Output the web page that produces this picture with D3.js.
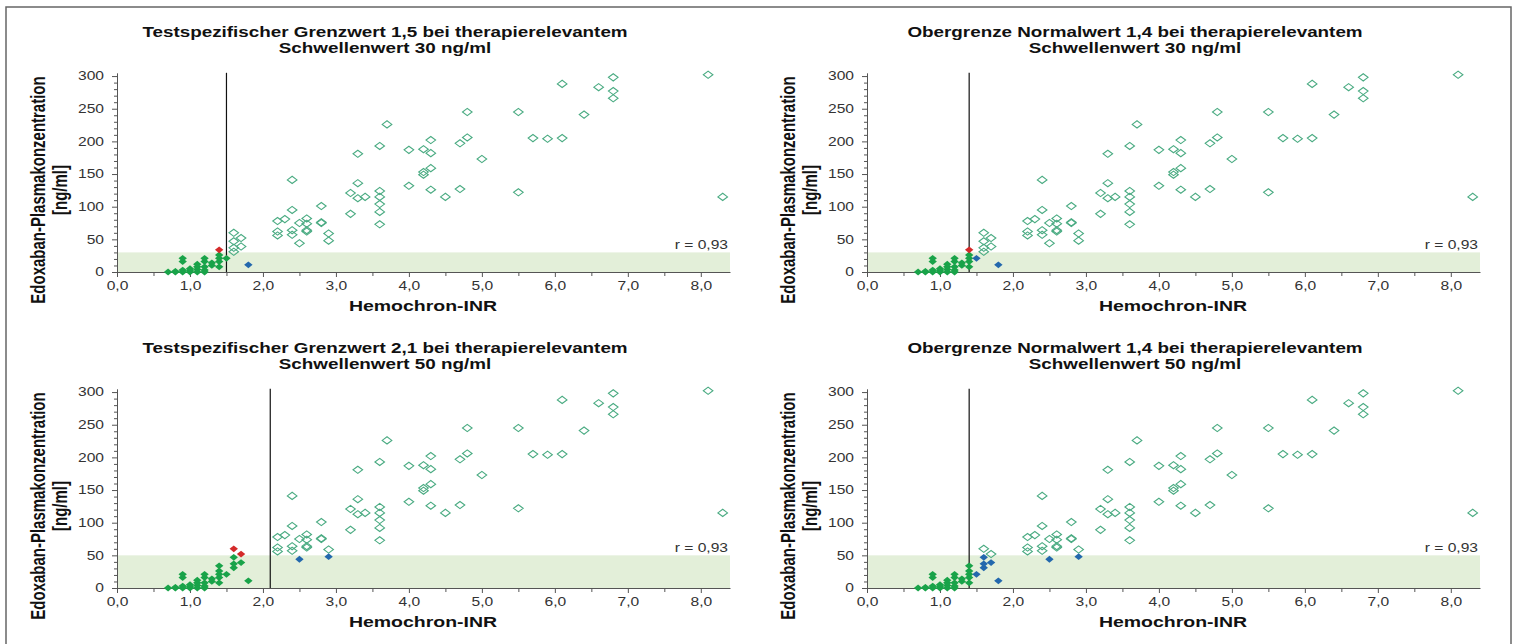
<!DOCTYPE html>
<html>
<head>
<meta charset="utf-8">
<script src="https://cdn.jsdelivr.net/npm/d3@7"></script>
<style>
  body { margin: 0; background: #fff; }
  svg { display: block; }
  text { font-family: "Liberation Sans", Arial, sans-serif; }
</style>
</head>
<body>
<script>
// ** Messwerte (Hemochron-INR / Edoxaban-Plasmakonzentration)
var inr = [
  0.7, 0.8, 0.8, 0.9, 0.9, 0.9, 0.9, 1.0, 1.0, 1.0,
  1.1, 1.1, 1.1, 1.1, 1.2, 1.2, 1.2, 1.2, 1.2, 1.3,
  1.3, 1.4, 1.4, 1.4, 1.4, 1.4, 1.5, 1.6, 1.6, 1.6,
  1.6, 1.7, 1.7, 1.8,
  2.2, 2.2, 2.2, 2.3, 2.4, 2.4, 2.4, 2.4, 2.5, 2.5,
  2.6, 2.6, 2.6, 2.6, 2.8, 2.8, 2.8, 2.9, 2.9, 3.2,
  3.2, 3.3, 3.3, 3.3, 3.4, 3.6, 3.6, 3.6, 3.6, 3.6,
  3.6, 3.7, 4.0, 4.0, 4.2, 4.2, 4.2, 4.3, 4.3, 4.3,
  4.3, 4.5, 4.7, 4.7, 4.8, 4.8, 5.0, 5.5, 5.5, 5.7,
  5.9, 6.1, 6.1, 6.4, 6.6, 6.8, 6.8, 6.8, 8.1, 8.3
];
var conc = [
  0, 0, 1, 0, 3, 16, 21, 0, 2, 5,
  0, 4, 8, 12, 0, 3, 8, 16, 21, 10,
  14, 8, 16, 21, 26, 34, 21, 31, 37, 47,
  60, 39, 52, 11,
  78, 62, 56, 81, 141, 95, 64, 57, 75, 44,
  82, 74, 64, 62, 101, 76, 75, 59, 48, 121,
  89, 181, 136, 113, 115, 193, 124, 115, 104, 92,
  73, 226, 187, 132, 188, 153, 149, 202, 182, 159,
  126, 115, 197, 127, 245, 206, 173, 245, 122, 205,
  204, 288, 205, 241, 283, 298, 277, 266, 302, 115
];

// ** Panels
var titles1 = [
  'Testspezifischer Grenzwert 1,5 bei therapierelevantem',
  'Obergrenze Normalwert 1,4 bei therapierelevantem',
  'Testspezifischer Grenzwert 2,1 bei therapierelevantem',
  'Obergrenze Normalwert 1,4 bei therapierelevantem'
];
var titles2 = [
  'Schwellenwert 30 ng/ml',
  'Schwellenwert 30 ng/ml',
  'Schwellenwert 50 ng/ml',
  'Schwellenwert 50 ng/ml'
];
var inrCutoffs = [1.5, 1.4, 2.1, 1.4];
var concThresholds = [30, 30, 50, 50];
var rLabel = 'r = 0,93';

var xTicks = [0, 1, 2, 3, 4, 5, 6, 7, 8];
var xMinor = [0.5, 1.5, 2.5, 3.5, 4.5, 5.5, 6.5, 7.5];
var yTicks = [0, 50, 100, 150, 200, 250, 300];

// horizontal text stretch of the original picture
var SX = 1.3;

var svg = d3.select('body').append('svg')
    .attr('width', 1514)
    .attr('height', 644);

svg.append('rect')
    .attr('x', 6).attr('y', 7)
    .attr('width', 1505).attr('height', 660)
    .attr('fill', 'none')
    .attr('stroke', '#666')
    .attr('stroke-width', 1.5);

var colors = { open: '#4aab82', green: '#19a349', red: '#d42a2a', blue: '#2368ad' };

var diamond = function(w, h){
  return 'M0,' + (-h) + 'L' + w + ',0L0,' + h + 'L' + (-w) + ',0Z';
};

var classify = function(xv, yv, cut, thr){
  var pos = xv > cut + 1e-9;
  var hi = yv >= thr;
  if (pos) return hi ? 'open' : 'blue';
  return hi ? 'red' : 'green';
};

// ** text with the stretched look
var label = function(g, x, y, str, size, weight, anchor, rotate){
  var t = g.append('g')
      .attr('transform', 'translate(' + x + ',' + y + ') scale(' + SX + ',1)' + (rotate ? ' rotate(-90)' : ''))
    .append('text')
      .attr('text-anchor', anchor || 'middle')
      .attr('font-size', size + 'px')
      .attr('font-weight', weight || 'normal')
      .attr('fill', '#111')
      .text(str);
  return t;
};

var fmt = function(d){ return d3.format('.1f')(d).replace('.', ','); };

for (var i = 0; i < 4; i++) {
  var ox = (i % 2) * 750;
  var oy = Math.floor(i / 2) * 316;
  var g = svg.append('g');

  var x = d3.scaleLinear().domain([0, 8.4]).range([117 + ox, 730 + ox]);
  var y = d3.scaleLinear().domain([0, 305]).range([272 + oy, 72.8 + oy]);

  // threshold band
  g.append('rect')
      .attr('x', x(0)).attr('y', y(concThresholds[i]))
      .attr('width', x(8.4) - x(0))
      .attr('height', y(0) - y(concThresholds[i]))
      .attr('fill', '#e3efd9');

  // cutoff line
  g.append('line')
      .attr('x1', x(inrCutoffs[i])).attr('x2', x(inrCutoffs[i]))
      .attr('y1', y(0)).attr('y2', y(305))
      .attr('stroke', '#111').attr('stroke-width', 1.2);

  // axes
  var xa = g.append('g').attr('transform', 'translate(0,' + y(0) + ')')
      .call(d3.axisBottom(x).tickValues(xTicks).tickSize(5).tickSizeOuter(0).tickFormat(fmt));
  g.append('g').attr('transform', 'translate(0,' + y(0) + ')')
      .call(d3.axisBottom(x).tickValues(xMinor).tickSize(4).tickSizeOuter(0).tickFormat(''))
      .select('.domain').remove();
  var ya = g.append('g').attr('transform', 'translate(' + x(0) + ',0)')
      .call(d3.axisLeft(y).tickValues(yTicks).tickSize(5).tickSizeOuter(0));
  g.append('g').attr('transform', 'translate(' + x(0) + ',0)')
      .call(d3.axisLeft(y).tickValues(d3.range(10, 301, 10).filter(function(v){ return v % 50; }))
        .tickSize(3).tickSizeOuter(0).tickFormat(''))
      .select('.domain').remove();

  g.selectAll('.domain, .tick line').attr('stroke', '#555');
  xa.selectAll('text')
      .attr('font-size', '12px').attr('fill', '#333')
      .attr('font-family', '"Liberation Sans", Arial, sans-serif')
      .attr('y', 9)
      .attr('transform', 'scale(' + SX + ',1)');
  ya.selectAll('text')
      .attr('font-size', '12px').attr('fill', '#333')
      .attr('font-family', '"Liberation Sans", Arial, sans-serif')
      .attr('x', -13 / SX)
      .attr('transform', 'scale(' + SX + ',1)');

  // points
  var pts = inr.map(function(v, k){
    return { x: v, y: conc[k], c: classify(v, conc[k], inrCutoffs[i], concThresholds[i]) };
  });
  g.selectAll('path.open').data(pts.filter(function(d){ return d.c === 'open'; }))
    .enter().append('path')
      .attr('class', 'open')
      .attr('d', diamond(4.8, 3.6))
      .attr('transform', function(d){ return 'translate(' + x(d.x) + ',' + y(d.y) + ')'; })
      .attr('fill', 'none')
      .attr('stroke', colors.open)
      .attr('stroke-width', 1.1);
  g.selectAll('path.filled').data(pts.filter(function(d){ return d.c !== 'open'; }))
    .enter().append('path')
      .attr('class', 'filled')
      .attr('d', diamond(4.2, 3.4))
      .attr('transform', function(d){ return 'translate(' + x(d.x) + ',' + y(d.y) + ')'; })
      .attr('fill', function(d){ return colors[d.c]; });

  // texts
  label(g, 385 + ox, 37 + oy, titles1[i], 14.5, 'bold');
  label(g, 385 + ox, 53 + oy, titles2[i], 14.5, 'bold');
  label(g, 423 + ox, 311 + oy, 'Hemochron-INR', 15, 'bold');
  label(g, 45 + ox, 190 + oy, 'Edoxaban-Plasmakonzentration', 15, 'bold', 'middle', true);
  label(g, 67 + ox, 190 + oy, '[ng/ml]', 15, 'bold', 'middle', true);
  label(g, 728 + ox, y(concThresholds[i]) - 3, rLabel, 12, 'normal', 'end').attr('fill', '#333');
}
</script>
</body>
</html>
